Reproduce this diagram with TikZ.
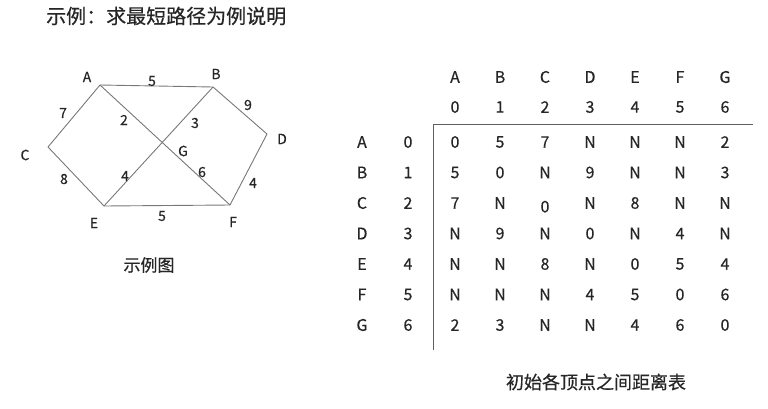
\documentclass[tikz,border=0pt]{standalone}
\usepackage{fontspec}
\setmainfont{Noto Sans CJK SC}[FakeBold=0.5]
\definecolor{inkgray}{HTML}{262626}
\definecolor{edgegray}{HTML}{787878}
\tikzset{
  edge/.style={draw=edgegray, line width=0.9pt},
  rule/.style={draw=edgegray!80!black, line width=1pt},
  vlabel/.style={text=inkgray, font=\fontsize{14}{16}\selectfont, inner sep=0pt},
  wlabel/.style={text=inkgray, font=\fontsize{14}{16}\selectfont, inner sep=0pt},
  cell/.style={text=inkgray, font=\fontsize{16}{18}\selectfont, inner sep=0pt, anchor=center},
}
\begin{document}
\begin{tikzpicture}[x=1pt,y=-1pt]
  \useasboundingbox (0,0) rectangle (768,408);

  % title
  \node[text=inkgray, font=\fontsize{20}{22}\selectfont, anchor=west, inner sep=0pt] (title) at (46,16) {示例：求最短路径为例说明};

  % graph
  \coordinate (A) at (100,85);
  \coordinate (B) at (213,87);
  \coordinate (C) at (48,147);
  \coordinate (D) at (267,134);
  \coordinate (E) at (104,206);
  \coordinate (F) at (230,205);
  \coordinate (G) at (159,147);

  \draw[edge] (A) -- (B);
  \draw[edge] (A) -- (C);
  \draw[edge] (A) -- (F);
  \draw[edge] (B) -- (E);
  \draw[edge] (B) -- (D);
  \draw[edge] (C) -- (E);
  \draw[edge] (E) -- (F);
  \draw[edge] (D) -- (F);

  \node[vlabel] (labA) at (87,77) {A};
  \node[vlabel] (labB) at (216,74) {B};
  \node[vlabel] (labC) at (25,155) {C};
  \node[vlabel] (labD) at (282,139) {D};
  \node[vlabel] (labE) at (94,223) {E};
  \node[vlabel] (labF) at (233,222) {F};
  \node[vlabel] (labG) at (183,151) {G};

  \node[wlabel] (wAB) at (152,81) {5};
  \node[wlabel] (wAC) at (63,113) {7};
  \node[wlabel] (wAG) at (124,120) {2};
  \node[wlabel] (wBG) at (195,123) {3};
  \node[wlabel] (wBD) at (248,105) {9};
  \node[wlabel] (wCE) at (64,179) {8};
  \node[wlabel] (wEG) at (125,176) {4};
  \node[wlabel] (wGF) at (202,172) {6};
  \node[wlabel] (wDF) at (253,183) {4};
  \node[wlabel] (wEF) at (162,216) {5};

  \node[text=inkgray, font=\fontsize{17}{19}\selectfont, inner sep=0pt] (capgraph) at (149,265) {示例图};

  % distance table
  \foreach \name [count=\j from 0] in {A,B,C,D,E,F,G} {
    \node[cell] (hn\j) at (455+45*\j,77) {\name};
    \node[cell] (hi\j) at (455+45*\j,107) {\j};
  }
  \foreach \name/\vals [count=\i from 0] in {
      A/{0,5,7,N,N,N,2},
      B/{5,0,N,9,N,N,3},
      C/{7,N,{\vphantom{N}\smash{\raisebox{-3.5pt}{0}}},N,8,N,N},
      D/{N,9,N,0,N,4,N},
      E/{N,N,8,N,0,5,4},
      F/{N,N,N,4,5,0,6},
      G/{2,3,N,N,4,6,0}} {
    \node[cell] (rn\i) at (362,142+30.5*\i) {\name};
    \node[cell] (ri\i) at (408,142+30.5*\i) {\i};
    \foreach \v [count=\j from 0] in \vals
      \node[cell] (c\i\j) at (455+45*\j,142+30.5*\i) {\v};
  }

  \coordinate (corner) at (433,124);
  \coordinate (hend) at (753,124);
  \coordinate (vend) at (433,350);
  \draw[rule] (corner) -- (hend);
  \draw[rule] (corner) -- (vend);

  \node[text=inkgray, font=\fontsize{18}{20}\selectfont, inner sep=0pt] (captable) at (596,382) {初始各顶点之间距离表};
\end{tikzpicture}
\end{document}
